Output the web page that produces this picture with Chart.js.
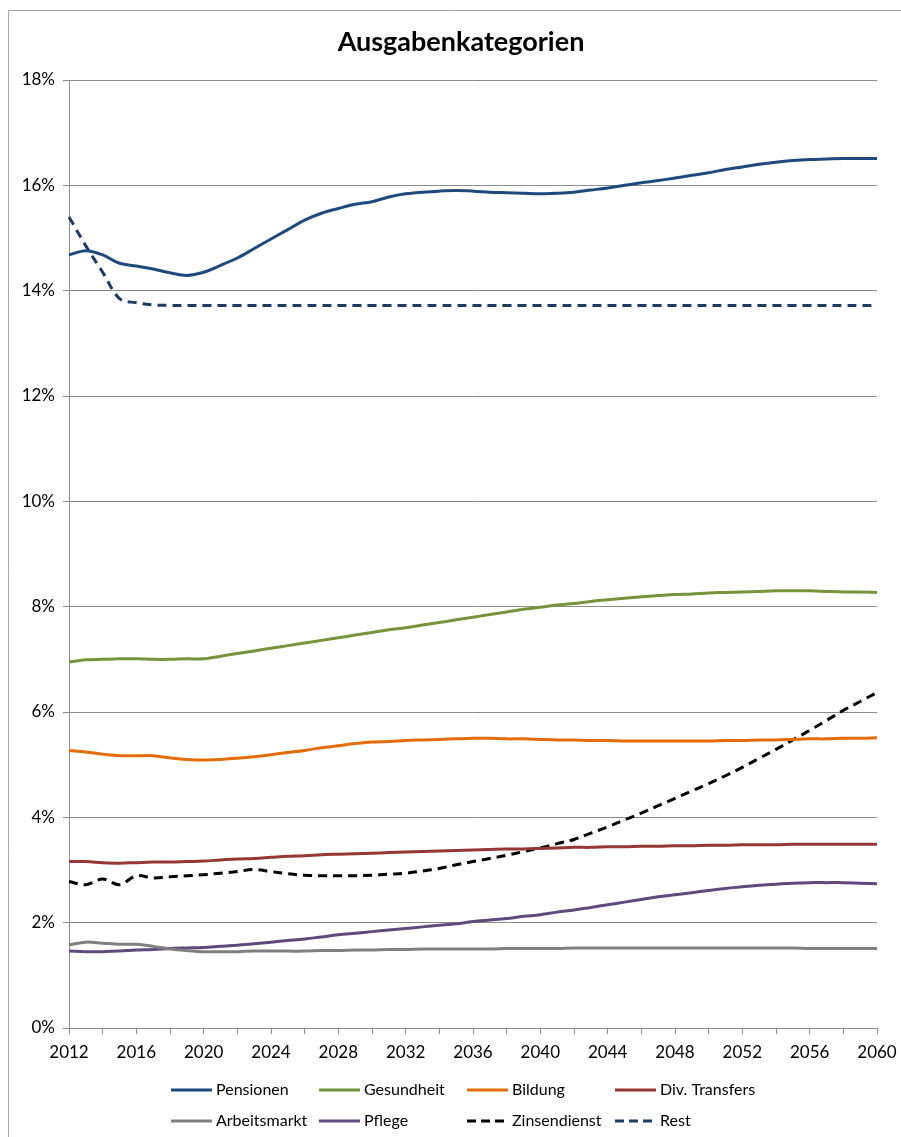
<!DOCTYPE html>
<html>
<head>
<meta charset="utf-8">
<script src="https://cdn.jsdelivr.net/npm/chart.js@4.4.1/dist/chart.umd.min.js"></script>
<style>
  html, body { margin: 0; padding: 0; background: #fff; }
  #wrap { position: relative; width: 901px; height: 1137px; }
</style>
</head>
<body>
<div id="wrap"><canvas id="chart" width="901" height="1137"></canvas></div>
<script>
// years 2012..2060
const years = [];
for (let y = 2012; y <= 2060; y++) years.push(String(y));

const pensionen = [14.68, 14.76, 14.68, 14.52, 14.47, 14.41, 14.34, 14.29, 14.35, 14.48,
  14.62, 14.80, 14.98, 15.16, 15.34, 15.47, 15.56, 15.64, 15.69, 15.78,
  15.84, 15.87, 15.89, 15.90, 15.89, 15.87, 15.86, 15.85, 15.84, 15.85,
  15.87, 15.91, 15.95, 16.00, 16.05, 16.09, 16.14, 16.19, 16.24, 16.30,
  16.35, 16.40, 16.44, 16.47, 16.49, 16.50, 16.51, 16.51, 16.51];

const gesundheit = [6.95, 6.99, 7.00, 7.01, 7.01, 7.00, 7.00, 7.01, 7.01, 7.06,
  7.11, 7.16, 7.21, 7.26, 7.31, 7.36, 7.41, 7.46, 7.51, 7.56,
  7.60, 7.65, 7.70, 7.75, 7.80, 7.85, 7.90, 7.95, 7.99, 8.03,
  8.06, 8.10, 8.13, 8.16, 8.19, 8.21, 8.23, 8.24, 8.26, 8.27,
  8.28, 8.29, 8.30, 8.30, 8.30, 8.29, 8.28, 8.28, 8.27];

const bildung = [5.27, 5.24, 5.20, 5.17, 5.17, 5.17, 5.13, 5.10, 5.09, 5.10,
  5.12, 5.15, 5.19, 5.23, 5.27, 5.32, 5.36, 5.40, 5.43, 5.44,
  5.46, 5.47, 5.48, 5.49, 5.50, 5.50, 5.49, 5.49, 5.48, 5.47,
  5.47, 5.46, 5.46, 5.45, 5.45, 5.45, 5.45, 5.45, 5.45, 5.46,
  5.46, 5.47, 5.47, 5.48, 5.49, 5.49, 5.50, 5.50, 5.51];

const divTransfers = [3.16, 3.16, 3.14, 3.13, 3.14, 3.15, 3.15, 3.16, 3.17, 3.19,
  3.21, 3.22, 3.24, 3.26, 3.27, 3.29, 3.30, 3.31, 3.32, 3.33,
  3.34, 3.35, 3.36, 3.37, 3.38, 3.39, 3.40, 3.40, 3.41, 3.42,
  3.43, 3.43, 3.44, 3.44, 3.45, 3.45, 3.46, 3.46, 3.47, 3.47,
  3.48, 3.48, 3.48, 3.49, 3.49, 3.49, 3.49, 3.49, 3.49];

const arbeitsmarkt = [1.58, 1.63, 1.61, 1.59, 1.59, 1.55, 1.50, 1.47, 1.45, 1.45,
  1.45, 1.46, 1.46, 1.46, 1.46, 1.47, 1.47, 1.48, 1.48, 1.49,
  1.49, 1.50, 1.50, 1.50, 1.50, 1.50, 1.51, 1.51, 1.51, 1.51,
  1.52, 1.52, 1.52, 1.52, 1.52, 1.52, 1.52, 1.52, 1.52, 1.52,
  1.52, 1.52, 1.52, 1.52, 1.51, 1.51, 1.51, 1.51, 1.51];

const pflege = [1.46, 1.45, 1.45, 1.46, 1.48, 1.49, 1.51, 1.52, 1.53, 1.55,
  1.57, 1.60, 1.63, 1.66, 1.69, 1.73, 1.77, 1.80, 1.83, 1.86,
  1.89, 1.92, 1.95, 1.98, 2.02, 2.05, 2.08, 2.12, 2.15, 2.20,
  2.24, 2.29, 2.34, 2.39, 2.44, 2.49, 2.53, 2.57, 2.61, 2.65,
  2.68, 2.71, 2.73, 2.75, 2.76, 2.76, 2.76, 2.75, 2.74];

const zinsendienst = [2.78, 2.72, 2.83, 2.72, 2.89, 2.85, 2.87, 2.89, 2.91, 2.94,
  2.97, 3.01, 2.97, 2.93, 2.90, 2.89, 2.89, 2.89, 2.90, 2.92,
  2.94, 2.98, 3.03, 3.10, 3.16, 3.22, 3.28, 3.35, 3.42, 3.50,
  3.58, 3.70, 3.82, 3.95, 4.08, 4.22, 4.36, 4.50, 4.64, 4.79,
  4.95, 5.12, 5.29, 5.47, 5.65, 5.84, 6.03, 6.20, 6.37];

const rest = [15.40, 14.85, 14.35, 13.85, 13.77, 13.73, 13.72, 13.72, 13.72, 13.72,
  13.72, 13.72, 13.72, 13.72, 13.72, 13.72, 13.72, 13.72, 13.72, 13.72,
  13.72, 13.72, 13.72, 13.72, 13.72, 13.72, 13.72, 13.72, 13.72, 13.72,
  13.72, 13.72, 13.72, 13.72, 13.72, 13.72, 13.72, 13.72, 13.72, 13.72,
  13.72, 13.72, 13.72, 13.72, 13.72, 13.72, 13.72, 13.72, 13.72];

const TITLE = "Ausgabenkategorien";
const FONT = "Lato, 'Open Sans', sans-serif";
const GRID = "#8c8c8c";

const makeSet = (label, data, color, dash) => ({
  label: label,
  data: data,
  borderColor: color,
  backgroundColor: color,
  borderWidth: 3,
  borderDash: dash || [],
  pointRadius: 0,
  tension: 0.35,
  fill: false,
});

const datasets = [
  makeSet("Pensionen", pensionen, "#1f497d"),
  makeSet("Gesundheit", gesundheit, "#77933c"),
  makeSet("Bildung", bildung, "#e46c0a"),
  makeSet("Div. Transfers", divTransfers, "#953735"),
  makeSet("Arbeitsmarkt", arbeitsmarkt, "#808080"),
  makeSet("Pflege", pflege, "#604a7b"),
  makeSet("Zinsendienst", zinsendienst, "#000000", [9, 6]),
  makeSet("Rest", rest, "#1f3b64", [9, 6]),
];

// frame lines, title and a fixed-column legend, Excel style
const framePlugin = {
  id: "frame",
  beforeDraw(chart) {
    const ctx = chart.ctx;
    ctx.save();
    ctx.strokeStyle = "#a6a6a6";
    ctx.lineWidth = 1;
    ctx.beginPath();
    ctx.moveTo(8.5, 1137);
    ctx.lineTo(8.5, 10.5);
    ctx.lineTo(901, 10.5);
    ctx.stroke();
    ctx.restore();
  },
  afterDraw(chart) {
    const ctx = chart.ctx;
    ctx.save();
    ctx.fillStyle = "#000";
    ctx.font = "bold 27px " + FONT;
    ctx.textAlign = "center";
    ctx.textBaseline = "middle";
    ctx.fillText(TITLE, 461, 42);

    ctx.font = "16px " + FONT;
    ctx.textAlign = "left";
    chart.data.datasets.forEach((ds, i) => {
      const col = i % 4;
      const row = Math.floor(i / 4);
      const x = 171 + col * 148;
      const y = 1090 + row * 31;
      ctx.strokeStyle = ds.borderColor;
      ctx.lineWidth = 3;
      ctx.setLineDash(ds.borderDash && ds.borderDash.length ? [9, 5] : []);
      ctx.beginPath();
      ctx.moveTo(x, y);
      ctx.lineTo(x + 41, y);
      ctx.stroke();
      ctx.setLineDash([]);
      ctx.fillStyle = "#000";
      ctx.fillText(ds.label, x + 45, y);
    });
    ctx.restore();
  },
};

const ctx = document.getElementById("chart").getContext("2d");
new Chart(ctx, {
  type: "line",
  data: { labels: years, datasets: datasets },
  plugins: [framePlugin],
  options: {
    responsive: false,
    animation: false,
    layout: { padding: { left: 10, right: 24, top: 80, bottom: 69 } },
    plugins: {
      legend: { display: false },
      tooltip: { enabled: false },
      title: { display: false },
    },
    scales: {
      x: {
        offset: false,
        border: { color: GRID, width: 1 },
        grid: {
          drawOnChartArea: false,
          drawTicks: true,
          tickLength: 6,
          tickColor: (c) => (c.index % 2 === 0 ? GRID : "transparent"),
        },
        ticks: {
          autoSkip: false,
          maxRotation: 0,
          padding: 8,
          color: "#000",
          font: { family: FONT, size: 17 },
          callback: function (v, i) {
            return i % 4 === 0 ? this.getLabelForValue(v) : "";
          },
        },
        afterFit: (s) => {
          s.height = 40;
          s.paddingLeft = 0;
          s.paddingRight = 0;
        },
      },
      y: {
        min: 0,
        max: 18,
        border: { color: GRID, width: 1 },
        grid: { color: GRID, tickLength: 6 },
        ticks: {
          stepSize: 2,
          padding: 8,
          color: "#000",
          font: { family: FONT, size: 17 },
          callback: (v) => v + "%",
        },
        afterFit: (s) => {
          s.width = 59;
          s.paddingTop = 0;
          s.paddingBottom = 0;
        },
      },
    },
  },
});
</script>
</body>
</html>
